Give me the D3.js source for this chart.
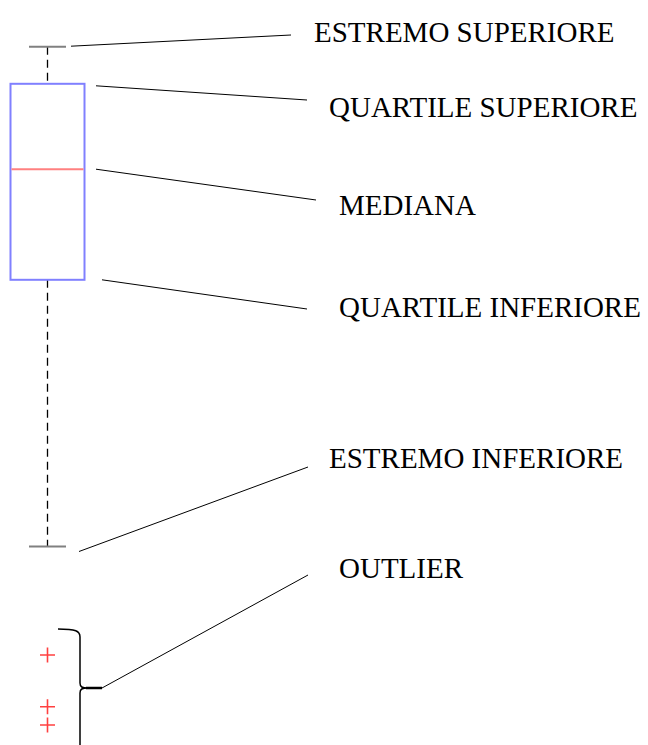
<!DOCTYPE html>
<html>
<head>
<meta charset="utf-8">
<script src="https://cdn.jsdelivr.net/npm/d3@7"></script>
<style>
  body { margin: 0; background: #fff; }
  svg { display: block; }
</style>
</head>
<body>
<div id="chart"></div>
<script>
// Box plot anatomy: one box with labelled parts

// values (arbitrary units)
const whiskerHigh = 100;
const quartileHigh = 94.7;
const median = 82.5;
const quartileLow = 66.7;
const whiskerLow = 28.6;
const outliers = [13.1, 5.7, 3.1];

// label texts, top to bottom
const labels = ['ESTREMO SUPERIORE', 'QUARTILE SUPERIORE', 'MEDIANA',
  'QUARTILE INFERIORE', 'ESTREMO INFERIORE', 'OUTLIER'];

(function() {
  const width = 648, height = 745;

  const svg = d3.select('#chart')
    .append('svg')
    .attr('width', width)
    .attr('height', height);

  const y = d3.scaleLinear()
    .domain([0, 100])
    .range([746.7, 46.7]);

  const cx = 47.5;       // box centre
  const boxHalf = 37;    // half width of the box
  const capHalf = 18.5;  // half width of whisker caps

  // whiskers (dashed)
  [[whiskerHigh, quartileHigh], [quartileLow, whiskerLow]].forEach(function(w) {
    svg.append('line')
      .attr('x1', cx).attr('x2', cx)
      .attr('y1', y(w[0])).attr('y2', y(w[1]))
      .attr('stroke', '#000')
      .attr('stroke-width', 1.3)
      .attr('stroke-dasharray', '8,5');
  });

  // caps
  [whiskerHigh, whiskerLow].forEach(function(v) {
    svg.append('line')
      .attr('x1', cx - capHalf).attr('x2', cx + capHalf)
      .attr('y1', y(v)).attr('y2', y(v))
      .attr('stroke', '#808080')
      .attr('stroke-width', 2);
  });

  // box
  svg.append('rect')
    .attr('x', cx - boxHalf)
    .attr('y', y(quartileHigh))
    .attr('width', boxHalf * 2)
    .attr('height', y(quartileLow) - y(quartileHigh))
    .attr('fill', 'none')
    .attr('stroke', '#8080ff')
    .attr('stroke-width', 2);

  // median
  svg.append('line')
    .attr('x1', cx - boxHalf + 1).attr('x2', cx + boxHalf - 1)
    .attr('y1', y(median)).attr('y2', y(median))
    .attr('stroke', '#ff8080')
    .attr('stroke-width', 2);

  // outliers as red plus marks
  svg.selectAll('.outlier')
    .data(outliers)
    .enter()
    .append('path')
    .attr('class', 'outlier')
    .attr('d', function(d) {
      const py = y(d);
      return `M${cx - 7.5},${py}H${cx + 7.5}M${cx},${py - 7.5}V${py + 7.5}`;
    })
    .attr('stroke', '#ff4040')
    .attr('stroke-width', 1.6)
    .attr('fill', 'none');

  // curly brace round the outliers
  const bx = 80;
  const bTop = y(d3.max(outliers)) - 26;
  const bBot = y(d3.min(outliers)) + 22;
  const bMid = (bTop + bBot) / 2;
  svg.append('path')
    .attr('d', `M58,${bTop} C76,${bTop} ${bx},${bTop + 2} ${bx},${bTop + 8}` +
      ` L${bx},${bMid - 5} C${bx},${bMid - 1} ${bx + 2},${bMid} ${bx + 8},${bMid}` +
      ` C${bx + 2},${bMid} ${bx},${bMid + 1} ${bx},${bMid + 5} L${bx},${bBot}`)
    .attr('fill', 'none')
    .attr('stroke', '#000')
    .attr('stroke-width', 1.5);
  svg.append('line')
    .attr('x1', bx + 6).attr('x2', bx + 22)
    .attr('y1', bMid).attr('y2', bMid)
    .attr('stroke', '#000')
    .attr('stroke-width', 2.5);

  // pointer lines: start near the part, end near the label
  const pointers = [
    { x1: 71, y1: y(whiskerHigh) - 0.5, x2: 291, y2: 35, tx: 314, ty: 42 },
    { x1: 96, y1: y(quartileHigh) + 2, x2: 307, y2: 100, tx: 329, ty: 117 },
    { x1: 96, y1: y(median), x2: 316, y2: 200, tx: 339, ty: 215 },
    { x1: 102, y1: y(quartileLow), x2: 307, y2: 309, tx: 339, ty: 317 },
    { x1: 79, y1: y(whiskerLow) + 5, x2: 308, y2: 467, tx: 329, ty: 468 },
    { x1: bx + 22, y1: bMid, x2: 308, y2: 575, tx: 339, ty: 578 }
  ];

  svg.selectAll('.pointer')
    .data(pointers)
    .enter()
    .append('line')
    .attr('class', 'pointer')
    .attr('x1', d => d.x1).attr('y1', d => d.y1)
    .attr('x2', d => d.x2).attr('y2', d => d.y2)
    .attr('stroke', '#000')
    .attr('stroke-width', 1);

  svg.selectAll('.label')
    .data(pointers)
    .enter()
    .append('text')
    .attr('class', 'label')
    .attr('x', d => d.tx)
    .attr('y', d => d.ty)
    .style('font-family', '"Liberation Serif", "Times New Roman", serif')
    .style('font-size', '29px')
    .style('fill', '#000')
    .text((d, i) => labels[i]);
})();
</script>
</body>
</html>
